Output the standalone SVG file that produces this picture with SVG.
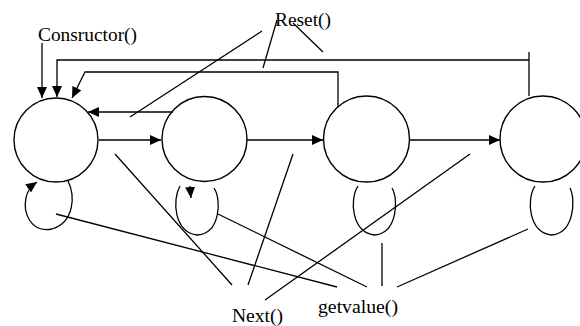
<svg xmlns="http://www.w3.org/2000/svg" width="580" height="326" viewBox="0 0 580 326">
<defs>
<marker id="ah" markerUnits="userSpaceOnUse" markerWidth="11" markerHeight="10" refX="11" refY="5" orient="auto"><path d="M0,0 L11,5 L0,10 z" fill="#000"/></marker>
<style>
.st{fill:none;stroke:#000;stroke-width:1.4}
.ln{fill:none;stroke:#000;stroke-width:1.3}
.ar{marker-end:url(#ah)}
.lb{font-family:"Liberation Serif",serif;font-size:19px;fill:#000}
</style>
</defs>
<rect width="580" height="326" fill="#fff"/>
<g id="state1"><circle class="st" cx="56" cy="140" r="42"/></g>
<g id="state2"><circle class="st" cx="204.5" cy="139" r="42.5"/></g>
<g id="state3"><circle class="st" cx="366.5" cy="139" r="43"/></g>
<g id="state4"><circle class="st" cx="543" cy="139" r="43"/></g>
<g id="labels">
<text class="lb" x="38" y="41" textLength="99" lengthAdjust="spacingAndGlyphs">Consructor()</text>
<text class="lb" x="275" y="26" textLength="56" lengthAdjust="spacingAndGlyphs">Reset()</text>
<text class="lb" x="318" y="313" textLength="80" lengthAdjust="spacingAndGlyphs">getvalue()</text>
<text class="lb" x="232" y="322" textLength="51" lengthAdjust="spacingAndGlyphs">Next()</text>
</g>
<g id="connectors">
<path class="ln ar" d="M42 43 L42 98"/>
<path class="ln" d="M529 52 L529 96"/>
<path class="ln ar" d="M529 60 L57 60 L57 97"/>
<path class="ln ar" d="M338 107 L338 72 L85 72 L72 98"/>
<path class="ln ar" d="M173 112 L88 112"/>
<path class="ln ar" d="M99 140 L161 140"/>
<path class="ln ar" d="M247 140 L323 140"/>
<path class="ln ar" d="M410 140 L500 140"/>
<path class="ln ar" d="M68 181 C75 195,75 222,52 229 C30 233,23 212,26 198 C27 191,30 187,37 182"/>
<path class="ln" d="M180 186 C172 200,174 232,197 235 C220 234,222 200,214 188"/>
<path class="ln ar" d="M190 186 L191 198"/>
<path class="ln" d="M358 186 C349 200,352 232,374 235 C397 234,399 200,392 188"/>
<path class="ln" d="M535 186 C526 200,529 232,551 235 C574 234,576 200,570 188"/>
<path class="ln" d="M262 31 L130 117"/>
<path class="ln" d="M277 20 L263 68"/>
<path class="ln" d="M293 23 L323 52"/>
<path class="ln" d="M232 285 L115 154"/>
<path class="ln" d="M248 285 L293 154"/>
<path class="ln" d="M265 300 L470 154"/>
<path class="ln" d="M56 214 L337 287"/>
<path class="ln" d="M218 214 L367 287"/>
<path class="ln" d="M382 243 L382 286"/>
<path class="ln" d="M397 287 L528 229"/>
</g>
</svg>
